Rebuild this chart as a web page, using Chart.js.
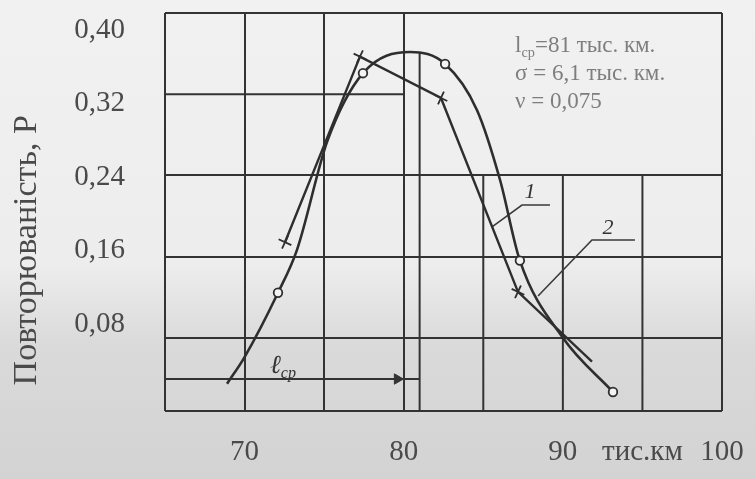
<!DOCTYPE html>
<html><head><meta charset="utf-8">
<script src="https://cdn.jsdelivr.net/npm/chart.js@4/dist/chart.umd.min.js"></script>
<style>
html,body{margin:0;padding:0;}
body{width:755px;height:479px;overflow:hidden;background:linear-gradient(180deg,#f1f1f1 0%,#ededed 55%,#dadada 72%,#d3d3d3 100%);}
canvas{display:block;}
</style></head><body>
<canvas id="c" width="755" height="479"></canvas>
<script>
// ---------- data ----------
const xTickValues = [70, 80, 90, 95, 100];
const xTickLabels = ['70', '80', '90', 'тис.км', '100'];
const yTickValues = [0.08, 0.16, 0.24, 0.32, 0.40];
const yTickLabels = ['0,08', '0,16', '0,24', '0,32', '0,40'];
const yTitle = 'Повторюваність, Р';

// curve 1 – empirical polyline (crosses)
const curve1X = [72.54, 77.25, 82.34, 87.18, 91.83];
const curve1Y = [0.169, 0.371, 0.326, 0.115, 0.039];
const curve1Marked = [true, true, true, true, false];

// curve 2 – smooth curve (circles)
const curve2X = [68.9, 70.0, 72.1, 73.3, 75.2, 77.44, 80.4, 82.6, 84.6, 86.05, 87.3, 90.0, 93.15];
const curve2Y = [0.015, 0.044, 0.114, 0.161, 0.279, 0.353, 0.376, 0.363, 0.313, 0.237, 0.149, 0.065, 0.006];
const curve2Marked = [false, false, true, false, false, true, false, true, false, false, true, false, true];

// mean value l_ср and its marks
const meanValue = 81;
const meanCurveTop = 0.375;
const arrowLevel = 0.0201;
const arrowHeadAt = 79.6;

// leader lines for curve numbers
const leader1X = [85.55, 87.43, 89.19];
const leader1Y = [0.1856, 0.2095, 0.2095];
const leader2X = [88.44, 91.83, 94.53];
const leader2Y = [0.1105, 0.1714, 0.1714];

// info text
const infoLines = [
  [['l', ''], ['ср', 'sub'], ['=81 тыс. км.', '']],
  [['σ = 6,1 тыс. км.', '']],
  [['ν = 0,075', '']]
];

// ---------- axis ranges / grid ----------
const X_MIN = 65, X_MAX = 100;
const Y_MIN = -0.0147, Y_MAX = 0.4185;
const YG_MIN = 0.0081, YG_MAX = 0.40;
const gridXValues = [65, 70, 75, 80, 85, 90, 95, 100];
const gridXPartial = [85, 90, 95];
const gridYValues = [YG_MIN, 0.08, 0.16, 0.24, 0.32, 0.40];
const gridYPartial = [0.32];
const boxLeft = 80, boxBottom = 0.24;

const LINE = '#2e2e2e';
const GRID = '#333333';
const SERIF = '"Liberation Serif", "Times New Roman", serif';

function pts(xs, ys) { return xs.map((x, i) => ({ x: x, y: ys[i] })); }

const datasets = [];
datasets.push({
  label: '1', data: pts(curve1X, curve1Y), yAxisID: 'y',
  borderColor: LINE, borderWidth: 2.4, tension: 0, fill: false,
  pointStyle: 'cross', rotation: 25,
  pointRadius: c => curve1Marked[c.dataIndex] ? 7 : 0,
  pointBorderWidth: 1.8, pointBorderColor: LINE, pointBackgroundColor: LINE
});
datasets.push({
  label: '2', data: pts(curve2X, curve2Y), yAxisID: 'y',
  borderColor: LINE, borderWidth: 2.6, cubicInterpolationMode: 'monotone', fill: false,
  pointStyle: 'circle',
  pointRadius: c => curve2Marked[c.dataIndex] ? 4.3 : 0,
  pointBorderWidth: 1.8, pointBorderColor: LINE, pointBackgroundColor: '#f4f4f4'
});
// mean line
datasets.push({
  label: 'mean', data: [{ x: meanValue, y: meanCurveTop }, { x: meanValue, y: Y_MIN }], yAxisID: 'y',
  borderColor: GRID, borderWidth: 2, pointRadius: 0, fill: false
});
// arrow l_ср
datasets.push({
  label: 'arrow', data: [{ x: X_MIN, y: arrowLevel }, { x: arrowHeadAt, y: arrowLevel }, { x: meanValue, y: arrowLevel }], yAxisID: 'y',
  borderColor: GRID, borderWidth: 2, fill: false,
  pointStyle: 'triangle', rotation: 90,
  pointRadius: c => c.dataIndex === 1 ? 6 : 0,
  pointBackgroundColor: GRID, pointBorderColor: GRID, pointBorderWidth: 1
});
// leaders
[[leader1X, leader1Y], [leader2X, leader2Y]].forEach(([xs, ys], i) => {
  datasets.push({ label: 'leader' + (i + 1), data: pts(xs, ys), yAxisID: 'y',
    borderColor: '#3a3a3a', borderWidth: 1.6, pointRadius: 0, fill: false, tension: 0 });
});
// partial grid lines
gridYPartial.forEach(v => {
  datasets.push({ label: 'g', data: [{ x: X_MIN, y: v }, { x: boxLeft, y: v }], yAxisID: 'yg',
    borderColor: GRID, borderWidth: 2, pointRadius: 0, fill: false });
});
gridXPartial.forEach(v => {
  datasets.push({ label: 'g', data: [{ x: v, y: boxBottom }, { x: v, y: YG_MIN }], yAxisID: 'yg',
    borderColor: GRID, borderWidth: 2, pointRadius: 0, fill: false });
});

function drawRuns(ctx, runs, x, y, size, color, style) {
  let cx = x;
  runs.forEach(([t, kind]) => {
    const s = kind === 'sub' ? size * 0.62 : size;
    ctx.font = (style || '') + ' ' + s + 'px ' + SERIF;
    ctx.fillStyle = color;
    ctx.textBaseline = 'alphabetic';
    ctx.textAlign = 'left';
    ctx.fillText(t, cx, kind === 'sub' ? y + size * 0.2 : y);
    cx += ctx.measureText(t).width;
  });
}

const notesPlugin = {
  id: 'notes',
  afterDatasetsDraw(chart) {
    const ctx = chart.ctx, xs = chart.scales.x, ys = chart.scales.y;
    ctx.save();
    const infoX = 87.0, infoBase = [0.376, 0.3456, 0.3151];
    infoLines.forEach((runs, i) => drawRuns(ctx, runs, xs.getPixelForValue(infoX), ys.getPixelForValue(infoBase[i]), 23, '#7e7e7e', ''));
    // curve numbers
    ctx.font = 'italic 22px ' + SERIF; ctx.fillStyle = '#333'; ctx.textAlign = 'center'; ctx.textBaseline = 'middle';
    ctx.fillText('1', xs.getPixelForValue(87.94), ys.getPixelForValue(0.2237));
    ctx.fillText('2', xs.getPixelForValue(92.84), ys.getPixelForValue(0.1845));
    // l_ср label on arrow
    drawRuns(ctx, [['ℓ', ''], ['ср', 'sub']], xs.getPixelForValue(71.6), ys.getPixelForValue(0.0267), 26, '#333', 'italic');
    ctx.restore();
  }
};

new Chart(document.getElementById('c'), {
  type: 'line',
  data: { datasets: datasets },
  plugins: [notesPlugin],
  options: {
    responsive: false, animation: false, events: [],
    layout: { padding: { left: 0, top: 13, right: 33, bottom: 0 } },
    plugins: { legend: { display: false }, tooltip: { enabled: false } },
    scales: {
      x: {
        type: 'linear', position: 'bottom', min: X_MIN, max: X_MAX,
        afterBuildTicks: s => { s.ticks = gridXValues.map(v => ({ value: v })); },
        ticks: {
          autoSkip: false, maxRotation: 0, padding: 24, color: '#4a4a4a',
          font: { family: SERIF, size: 29 },
          callback: v => { const i = xTickValues.indexOf(v); return i >= 0 ? xTickLabels[i] : ''; }
        },
        grid: { color: c => (c.tick && gridXPartial.includes(c.tick.value)) ? 'rgba(0,0,0,0)' : GRID, lineWidth: 2, drawTicks: false },
        border: { display: false },
        afterFit: s => { s.height = 68; s.paddingLeft = 0; s.paddingRight = 0; }
      },
      y: {
        type: 'linear', position: 'left', min: Y_MIN, max: Y_MAX,
        afterBuildTicks: s => { s.ticks = yTickValues.map(v => ({ value: v })); },
        ticks: {
          padding: 40, color: '#4a4a4a', font: { family: SERIF, size: 29 },
          callback: v => { const i = yTickValues.indexOf(v); return i >= 0 ? yTickLabels[i] : ''; }
        },
        grid: { display: false, drawTicks: false },
        border: { display: false },
        title: { display: true, text: yTitle + '\u00A0'.repeat(9), color: '#4a4a4a', font: { family: SERIF, size: 34 }, padding: { top: 7, bottom: 0 } },
        afterFit: s => { s.width = 165; s.paddingTop = 0; s.paddingBottom = 0; }
      },
      yg: {
        type: 'linear', position: 'right', min: YG_MIN, max: YG_MAX,
        afterBuildTicks: s => { s.ticks = gridYValues.map(v => ({ value: v })); },
        ticks: { display: false },
        grid: { color: c => (c.tick && gridYPartial.includes(c.tick.value)) ? 'rgba(0,0,0,0)' : GRID, lineWidth: 2, drawTicks: false },
        border: { display: false },
        afterFit: s => { s.width = 0; s.paddingTop = 0; s.paddingBottom = 0; }
      }
    }
  }
});
</script>
</body></html>
